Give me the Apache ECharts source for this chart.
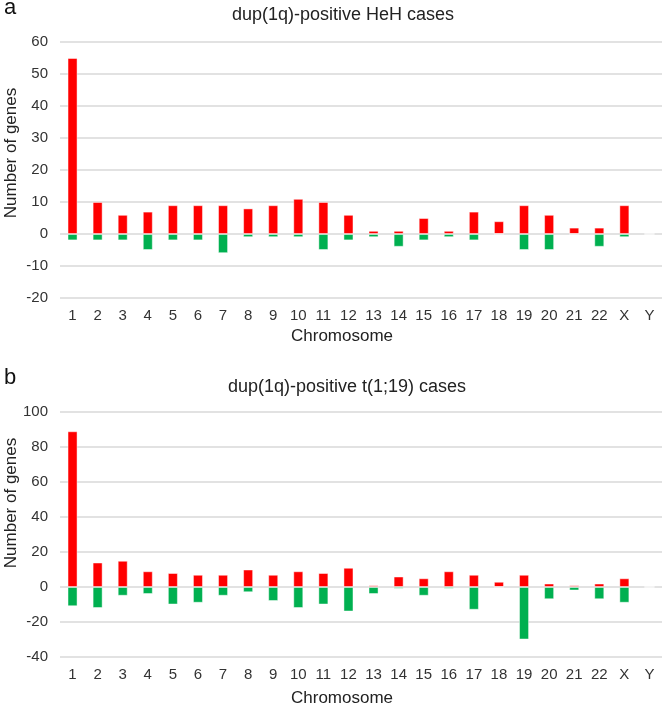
<!DOCTYPE html>
<html>
<head>
<meta charset="utf-8">
<script src="https://cdn.jsdelivr.net/npm/echarts@6/dist/echarts.min.js"></script>
<style>html,body{margin:0;padding:0;background:#fff}#c{width:664px;height:705px}</style>
</head>
<body>
<div id="c"></div>
<script>
const chromosomes = ['1','2','3','4','5','6','7','8','9','10','11','12','13','14','15','16','17','18','19','20','21','22','X','Y'];
const hehGain = [55,10,6,7,9,9,9,8,9,11,10,6,1,1,5,1,7,4,9,6,2,2,9,0];
const hehLoss = [-2,-2,-2,-5,-2,-2,-6,-1,-1,-1,-5,-2,-1,-4,-2,-1,-2,0,-5,-5,0,-4,-1,0];
const t119Gain = [89,14,15,9,8,7,7,10,7,9,8,11,1,6,5,9,7,3,7,2,1,2,5,0];
const t119Loss = [-11,-12,-5,-4,-10,-9,-5,-3,-8,-12,-10,-14,-4,-1,-5,-1,-13,0,-30,-7,-2,-7,-9,0];
const titleA = 'dup(1q)-positive HeH cases';
const titleB = 'dup(1q)-positive t(1;19) cases';
const yName = 'Number of genes';
const xName = 'Chromosome';

const FONT = '"Liberation Sans", Arial, sans-serif';
const RED = '#FF0000', GREEN = '#00B050';
const chart = echarts.init(document.getElementById('c'), null, {renderer: 'canvas'});

function xAx(gi) {
  return {
    type: 'category', gridIndex: gi, data: chromosomes,
    axisLine: {show: false}, axisTick: {show: false},
    axisLabel: {color: '#333', fontFamily: FONT, fontSize: 15, margin: 10, interval: 0}
  };
}
function yAx(gi, min, max, iv) {
  return {
    type: 'value', gridIndex: gi, min: min, max: max, interval: iv,
    axisLine: {show: false}, axisTick: {show: false},
    axisLabel: {color: '#333', fontFamily: FONT, fontSize: 15, margin: 12},
    splitLine: {lineStyle: {color: '#d9d9d9', width: 1.5}}
  };
}
function bar(xi, data, color) {
  return {
    type: 'bar', xAxisIndex: xi, yAxisIndex: xi, data: data,
    barWidth: '40%', barGap: '-100%',
    itemStyle: {color: color, borderColor: 'rgba(255,255,255,0.45)', borderWidth: 1},
    emphasis: {disabled: true}, animation: false
  };
}
function txt(t, x, y, size, rot, color) {
  return {
    type: 'text', x: x, y: y, rotation: rot || 0, silent: true,
    style: {text: t, fontFamily: FONT, fontSize: size, fill: color || '#222',
            align: 'center', verticalAlign: 'middle'}
  };
}

chart.setOption({
  animation: false,
  grid: [
    {left: 60, right: 2, top: 42, height: 256},
    {left: 60, right: 2, top: 412, height: 245}
  ],
  xAxis: [xAx(0), xAx(1)],
  yAxis: [yAx(0, -20, 60, 10), yAx(1, -40, 100, 20)],
  series: [
    bar(0, hehGain, RED), bar(0, hehLoss, GREEN),
    bar(1, t119Gain, RED), bar(1, t119Loss, GREEN)
  ],
  graphic: [
    txt('a', 10, 8, 22, 0, '#111'),
    txt(titleA, 343, 15, 18),
    txt(yName, 11, 153, 17, Math.PI / 2),
    txt(xName, 342, 336, 17),
    txt('b', 10, 378, 22, 0, '#111'),
    txt(titleB, 347, 387, 18),
    txt(yName, 11, 503, 17, Math.PI / 2),
    txt(xName, 342, 698, 17)
  ]
});
</script>
</body>
</html>
